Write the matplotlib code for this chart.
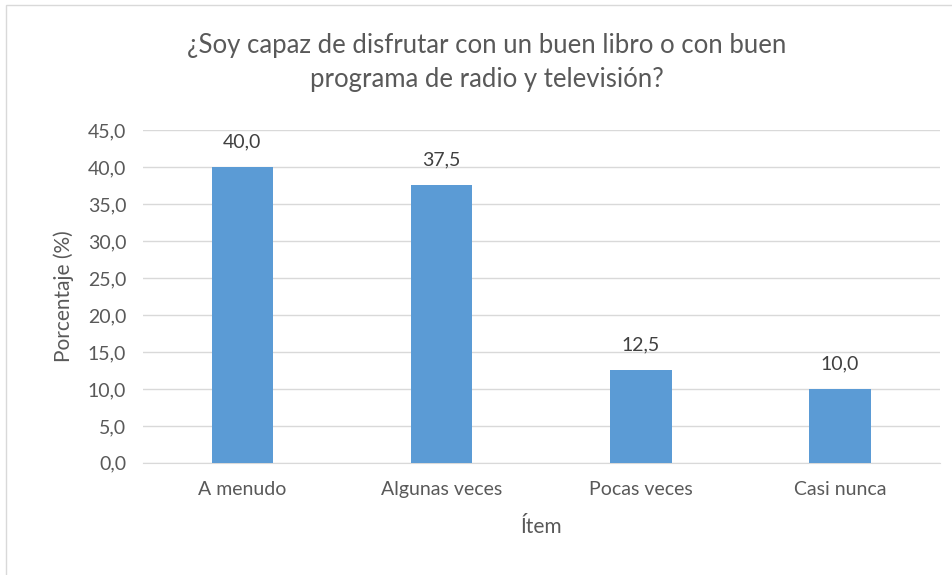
import matplotlib
matplotlib.use('Agg')
import matplotlib.pyplot as plt
from matplotlib.ticker import FuncFormatter
from matplotlib.patches import Rectangle

categories = ['A menudo', 'Algunas veces', 'Pocas veces', 'Casi nunca']
values = [40.0, 37.5, 12.5, 10.0]

text_color = '#595959'
bar_color = '#5b9bd5'
plt.rcParams['font.family'] = ['Lato', 'DejaVu Sans']

fig = plt.figure(figsize=(9.52, 5.75), dpi=100)
ax = fig.add_axes([0.150, 0.195, 0.837, 0.579])

x = range(len(categories))
bars = ax.bar(x, values, width=0.31, color=bar_color, zorder=3)

for xi, v in zip(x, values):
    ax.text(xi, v + 2.3, f'{v:.1f}'.replace('.', ','), ha='center', va='bottom',
            fontsize=14, color='#404040')

ax.set_ylim(0, 45)
ax.set_xlim(-0.5, len(categories) - 0.5)
ax.set_yticks(range(0, 46, 5))
ax.yaxis.set_major_formatter(FuncFormatter(lambda v, p: f'{v:.1f}'.replace('.', ',')))
ax.set_xticks(list(x))
ax.set_xticklabels(categories)
ax.tick_params(axis='both', length=0, labelsize=14, labelcolor=text_color)
ax.tick_params(axis='x', pad=13)
ax.tick_params(axis='y', pad=12)

ax.grid(axis='y', color='#d9d9d9', linewidth=1, zorder=0)
for s in ['top', 'right', 'left']:
    ax.spines[s].set_visible(False)
ax.spines['bottom'].set_color('#d9d9d9')

ax.set_xlabel('Ítem', fontsize=15, color=text_color, labelpad=14)
ax.set_ylabel('Porcentaje (%)', fontsize=15, color=text_color, labelpad=10)

fig.text(0.511, 0.892, '¿Soy capaz de disfrutar con un buen libro o con buen\nprograma de radio y televisión?',
         ha='center', va='center', fontsize=18.5, color=text_color, linespacing=1.45)

fig.patches.append(Rectangle((0.006, -0.05), 1.1, 1.041, transform=fig.transFigure,
                             fill=False, edgecolor='#d9d9d9', linewidth=1))

fig.savefig('out.png', dpi=100)
